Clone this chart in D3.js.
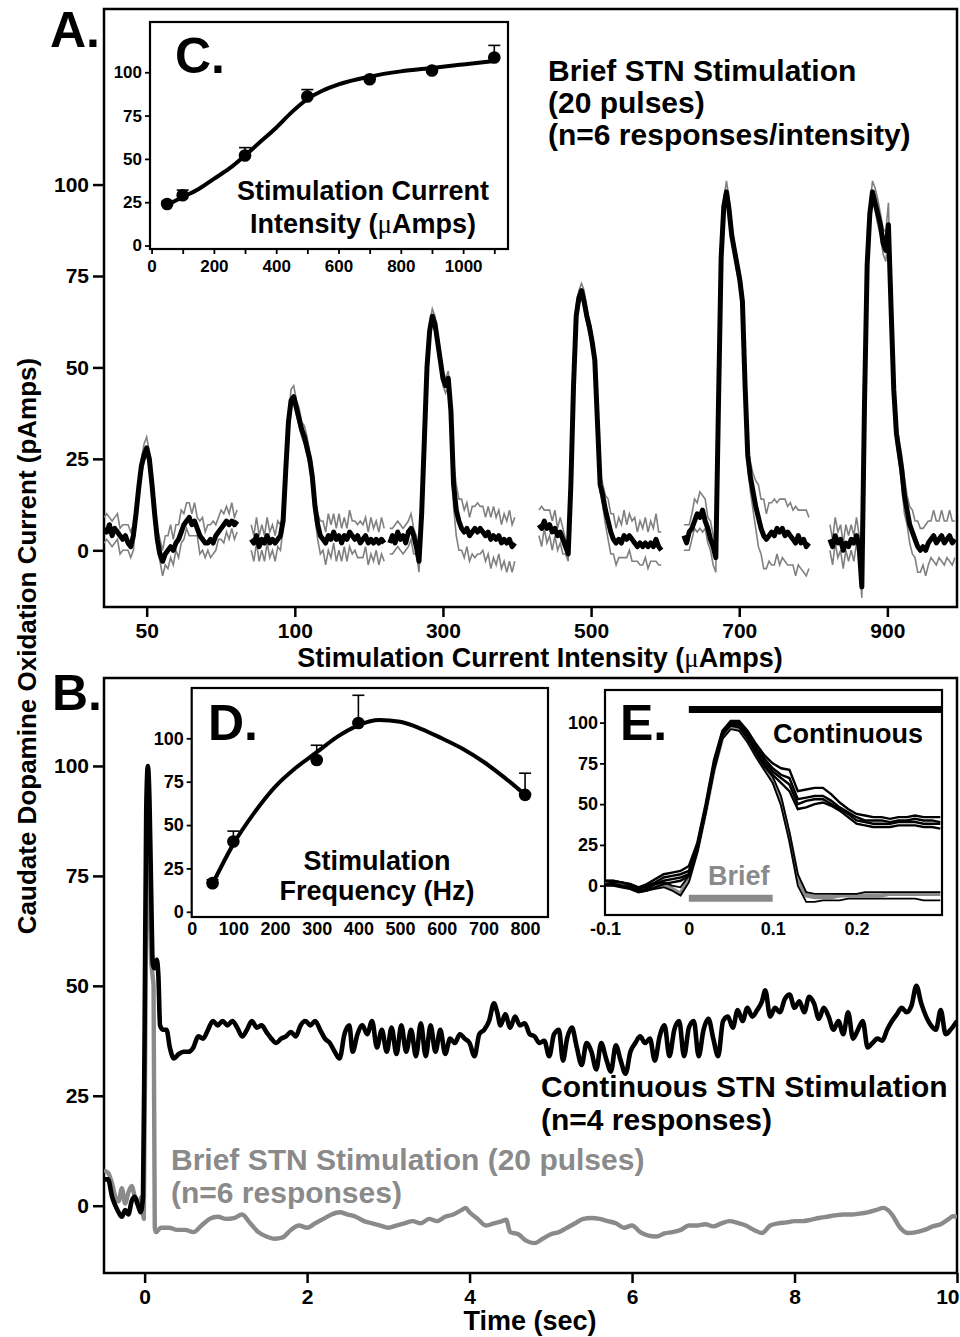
<!DOCTYPE html>
<html>
<head>
<meta charset="utf-8">
<script src="https://cdn.jsdelivr.net/npm/d3@7"></script>
<style>
  html, body { margin: 0; padding: 0; background: #fff; overflow: hidden; }
  svg { display: block; }
</style>
</head>
<body>
<script>
"use strict";

/******************** Panel A : brief stimulation sweeps per intensity ********************/
const intensityLabels = ["50", "100", "300", "500", "700", "900"];
const sweepStart = [-0.40, -0.41, -0.50, -0.49, -0.52, -0.54]; // sec, sweep start vs. category tick
const sweepStep = 0.025; // sec between samples

const meanA = [
  [6,5,7,4,6,5,4,3,4,2,1,4,10,17,23,26,28,25,18,10,3,-1,-3,-1,0,1,0,2,3,5,7,8,9,7,8,6,4,3,2,2,3,2,4,5,6,7,8,7,8,7,8],
  [3,2,4,1,3,2,4,2,3,2,3,4,8,22,35,41,42,39,36,33,31,28,25,20,12,7,4,3,2,4,3,5,3,4,2,4,3,5,4,3,4,2,3,4,2,3,2,3,2,3,2],
  [2,4,2,5,3,4,2,5,6,4,1,-3,10,30,50,60,64,62,57,52,47,45,47,38,18,11,8,6,5,6,4,5,6,5,6,5,4,5,3,4,3,4,2,3,2,3,1,2],
  [7,6,8,6,7,5,6,4,5,3,1,-1,18,45,64,69,71,68,64,61,57,52,35,18,15,11,8,5,3,2,3,2,4,3,4,3,2,1,2,1,2,1,2,1,3,1,0],
  [4,2,5,6,8,10,9,11,8,6,3,1,-2,40,80,94,98,93,86,82,78,74,68,45,26,20,16,12,9,6,4,3,4,5,4,6,5,6,4,5,4,3,2,4,2,3,1,2],
  [3,1,4,2,3,0,2,1,3,2,4,1,-10,40,78,92,98,95,92,89,84,82,89,66,44,32,27,22,15,11,7,5,3,1,0,1,0,2,3,4,2,3,4,2,3,4,2,3]
];
// upper / lower grey SEM traces (distance from the mean)
const semHiA = [
  [3,5,2,4,3,5,2,4,3,5,4,3,2,2,2,3,3,2,2,2,3,4,3,5,4,6,3,5,4,6,3,5,4,3,5,3,4,6,3,5,4,6,3,4,5,3,4,3,5,2,3],
  [4,2,5,3,4,2,5,3,4,2,5,3,2,2,2,3,3,2,3,2,3,3,2,3,2,3,4,5,3,6,4,5,3,6,4,5,3,6,4,5,3,6,4,5,3,6,4,5,3,6,4],
  [4,2,5,3,4,2,5,3,4,2,3,4,2,2,2,2,2,2,2,2,2,2,2,3,6,7,6,8,6,7,5,7,6,8,6,7,5,7,6,8,6,7,5,7,6,8,6,7],
  [4,6,3,5,4,3,5,2,4,3,2,3,2,2,3,2,2,3,2,2,2,2,2,3,3,4,6,5,7,4,6,5,7,4,6,5,7,4,6,5,7,4,6,5,7,4,5],
  [3,5,2,4,6,3,7,4,6,3,5,3,3,2,2,2,3,3,3,2,2,2,3,3,3,4,5,7,9,8,10,7,9,8,10,7,9,8,10,7,9,8,10,7,9,8,10,7],
  [4,2,5,3,4,2,5,3,4,2,5,3,3,2,2,2,3,4,4,3,4,5,6,3,3,3,3,4,5,4,5,6,5,7,6,5,7,6,5,7,6,5,7,6,5,7,6,5]
];
const semLoA = [
  [4,2,5,3,4,2,5,3,4,2,3,4,2,2,2,2,2,2,2,3,3,2,4,3,5,3,4,2,5,3,4,2,5,3,4,2,5,3,4,2,5,3,4,2,3,5,3,4,2,4,3],
  [3,5,2,4,3,5,2,4,3,5,2,4,2,2,2,2,2,2,2,2,2,2,2,3,3,4,5,3,6,4,5,3,6,4,5,3,6,4,5,3,6,4,5,3,6,4,5,3,6,4,5],
  [3,5,2,4,3,5,2,4,3,5,2,3,2,2,2,2,2,2,2,2,2,2,2,3,6,7,8,6,7,5,7,6,8,6,7,5,7,6,8,6,7,5,7,6,8,6,7,5],
  [3,5,2,4,3,5,2,4,3,4,2,2,2,2,2,2,2,2,2,2,2,2,2,2,3,4,5,6,4,6,5,4,6,5,4,6,5,4,6,5,4,6,5,4,6,5,4],
  [4,2,5,3,2,5,3,6,2,4,3,5,4,2,2,2,2,2,2,2,2,2,3,3,3,4,5,6,8,7,9,8,7,9,8,7,9,8,7,9,8,7,9,8,7,9,8,7],
  [3,5,2,4,3,5,2,4,3,5,2,4,3,2,2,2,2,2,3,3,3,3,3,3,3,3,3,4,5,4,5,6,5,7,6,5,7,6,5,7,6,5,7,6,5,7,6,5]
];

/******************** Panel B : continuous vs brief stimulation ********************/
const contT = [-0.50,-0.45,-0.40,-0.36,-0.32,-0.28,-0.24,-0.20,-0.16,-0.12,-0.08,-0.05,-0.02,0.00,0.02,0.04,0.06,0.08,0.10,0.12,0.15,0.17,0.19,0.23,0.27,0.31,0.36,0.42,0.48,0.54,0.60,0.66,0.72,0.78,0.84,0.90,0.96,1.02,1.08,1.14,1.20,1.26,1.32,1.38,1.44,1.50,1.56,1.62,1.68,1.74,1.80,1.86,1.92,1.98,2.04,2.10,2.16,2.22,2.28,2.34,2.40,2.46,2.52,2.56,2.62,2.68,2.74,2.80,2.86,2.92,2.98,3.04,3.10,3.16,3.22,3.28,3.34,3.40,3.46,3.52,3.58,3.64,3.70,3.76,3.82,3.88,3.94,4.00,4.06,4.12,4.18,4.24,4.30,4.34,4.38,4.44,4.50,4.56,4.62,4.68,4.74,4.80,4.86,4.92,4.98,5.04,5.10,5.15,5.20,5.26,5.32,5.38,5.44,5.50,5.56,5.62,5.68,5.74,5.80,5.86,5.92,5.98,6.04,6.10,6.16,6.22,6.28,6.34,6.40,6.46,6.52,6.58,6.64,6.70,6.76,6.82,6.88,6.94,7.00,7.06,7.12,7.18,7.24,7.30,7.36,7.42,7.48,7.54,7.60,7.64,7.70,7.76,7.82,7.88,7.94,8.00,8.06,8.12,8.18,8.24,8.30,8.36,8.42,8.48,8.54,8.60,8.66,8.72,8.78,8.84,8.90,8.96,9.02,9.08,9.14,9.20,9.26,9.32,9.38,9.44,9.50,9.56,9.62,9.68,9.74,9.80,9.86,9.92,10.0];
const contV = [6,6,2,0,-1.5,-2.5,-1,-2,1,2,0,-1.5,2,40,90,100,92,72,55,54,56,52,41,40,40,36,33.5,34.5,35,35,36,38.5,38,40,42,41,42,41,42,40.5,38.5,40,42,40.5,41,39.5,38,37,38,38.5,39.5,38.5,41,42,41,42,40,38,37,35,33.5,39,41,35,39,41,39,42,36,40,35,40.5,34.5,41,35,40,34,41.5,34,41,35,40,34.5,38,37,39,38,37,34,39,40,42,46,44,41,43.5,40.5,43,41,41.5,39,38.5,37,37.5,34,39,40,33,38,40.5,36,32,37,35,31,37,33.5,30.5,36.5,33,30,35,37,38.5,37,38,33,38.5,41,34,40,42,34,40.5,42,34,40,42.5,38,34,42,43,40.5,44.5,42,45,43,44.5,46.5,49,43,45,44,47,48,45,46.5,44,47.5,46,42.5,45,43,40,42,39,44,38,40,42,36,37,38,37.5,40,42,43.5,45,44,45.5,50,46,43,41,40,44.5,39,40,42];

const briefT = [-0.50,-0.45,-0.40,-0.36,-0.32,-0.28,-0.24,-0.20,-0.16,-0.12,-0.08,-0.04,-0.01,0.02,0.04,0.06,0.08,0.10,0.11,0.125,0.14,0.20,0.30,0.40,0.50,0.60,0.70,0.80,0.90,1.00,1.10,1.20,1.30,1.40,1.50,1.60,1.70,1.80,1.90,2.00,2.10,2.20,2.30,2.40,2.50,2.60,2.70,2.80,2.90,3.00,3.10,3.20,3.30,3.40,3.50,3.60,3.70,3.80,3.90,3.95,4.00,4.10,4.20,4.30,4.40,4.45,4.50,4.60,4.70,4.80,4.90,5.00,5.10,5.20,5.30,5.40,5.50,5.60,5.70,5.80,5.90,6.00,6.10,6.20,6.30,6.40,6.50,6.60,6.70,6.80,6.90,7.00,7.10,7.20,7.30,7.40,7.50,7.60,7.70,7.80,7.90,8.00,8.10,8.20,8.30,8.40,8.50,8.60,8.70,8.80,8.90,9.00,9.10,9.15,9.20,9.30,9.40,9.50,9.60,9.70,9.80,9.90,9.95,10.0];
const briefV = [8,7.5,5,2,1,4,0.5,3,4.5,2,0,2,-3,70,98,78,56,52,50,-5,-6,-5,-5,-5.5,-5.5,-6,-4.5,-3,-2.5,-3,-2.8,-2,-4,-6,-7,-7.5,-7.2,-5.5,-4.5,-5,-4,-3,-2,-1.5,-2,-2.5,-3.5,-4,-4.5,-5,-4.5,-4,-3.5,-4,-3,-3.5,-2.5,-2,-1,-0.5,-1.5,-3,-4.5,-4,-3.5,-3.2,-6,-6.5,-8,-8.5,-7.5,-6.5,-6,-5,-4,-3,-2.8,-3,-3.5,-4,-5,-4.5,-6,-6.8,-7,-6.3,-6,-5.5,-4.5,-4.5,-4.2,-4.7,-4,-3.5,-3.9,-4.5,-5.5,-6.2,-4.5,-4,-3.8,-3.5,-3.5,-3.2,-2.8,-2.5,-2.2,-2,-2,-1.8,-1.5,-1,-0.5,-1,-2,-5,-6.2,-6,-5.5,-4.7,-4.2,-3,-2.4,-2.5];

/******************** Inset C : intensity-response ********************/
const intensityC = [50, 100, 300, 500, 700, 900, 1100];
const respC = [24, 29, 52, 86, 96, 101, 108.5];
const errC = [1.5, 3, 4.5, 4, 1, 1.5, 7];
const fitCx = [50, 100, 150, 200, 250, 300, 350, 400, 450, 500, 550, 600, 700, 800, 900, 1000, 1100];
const fitCy = [23.5, 28, 32.5, 38.5, 44.5, 52, 60, 68, 77, 84.5, 89.5, 93, 97.5, 100.5, 102.5, 104.5, 106.5];

/******************** Inset D : frequency-response ********************/
const freqD = [50, 100, 300, 400, 800];
const respD = [16.5, 40.5, 87.5, 108.8, 67.4];
const errD = [2, 6, 8.5, 16, 12.5];
const fitDx = [50, 100, 150, 200, 250, 300, 350, 400, 450, 500, 550, 600, 650, 700, 750, 800];
const fitDy = [16, 39, 57, 72, 83, 92, 101, 107.5, 110.5, 109.5, 105.5, 100, 94, 86.5, 77.5, 67.5];

/******************** Inset E : expanded onset ********************/
const timeE = [-0.10,-0.09,-0.08,-0.07,-0.06,-0.05,-0.04,-0.03,-0.02,-0.01,0.00,0.01,0.02,0.03,0.04,0.05,0.06,0.07,0.08,0.09,0.10,0.11,0.12,0.13,0.14,0.15,0.16,0.17,0.18,0.19,0.20,0.21,0.22,0.23,0.24,0.25,0.26,0.27,0.28,0.29,0.30];
const contE = [
  [3,3,2,1,-1,1,4,7,8,9,12,26,50,77,95,101,101,95,87,80,75,72,71,58,59,60,60,56,51,47,44,43,42,42,41,42,42,43,42,42,42],
  [3,2,2,0,-2,0,2,5,6,7,9,24,48,75,94,100,100,94,85,78,72,68,66,53,54,55,55,52,48,45,42,40,40,40,39,40,40,41,40,40,39],
  [1,1,0,-1,-3,-2,1,3,4,5,7,22,46,73,93,99,99,93,84,76,70,66,62,50,52,53,53,50,47,44,40,39,38,38,38,39,39,39,38,38,38],
  [0,0,-1,-2,-4,-3,-1,1,2,3,6,21,45,72,92,99,98,92,82,74,68,63,58,47,48,50,51,49,46,42,38,37,36,36,36,37,37,37,36,36,35]
];
const briefE = [2,2,1,0,-2,-2,0,1,-2,-5,4,22,46,72,91,97,96,89,80,72,65,52,30,4,-6,-7,-7,-7,-6,-6,-6,-6,-6,-6,-5,-5,-5,-5,-5,-5,-5];
const briefEthin = [
  [3,3,2,1,-1,-1,1,2,0,-1,6,24,47,74,93,98,97,90,81,73,67,55,33,7,-4,-5,-5,-5,-5,-5,-5,-4,-4,-4,-4,-4,-4,-4,-4,-4,-4],
  [1,0,0,-2,-4,-3,-2,-1,-3,-6,2,20,44,70,90,96,95,88,79,71,63,49,27,0,-10,-10,-9,-9,-9,-8,-8,-8,-8,-8,-8,-8,-8,-8,-9,-9,-9]
];

/******************** Drawing ********************/
const FONT = '"Liberation Sans", Arial, Helvetica, sans-serif';
const GREY = "#8a8a8a";
const W = 960, H = 1337;

const svg = d3.select("body").append("svg")
  .attr("width", W).attr("height", H)
  .style("font-family", FONT).style("font-weight", "bold");

function styleAxis(g, size, lw) {
  g.select(".domain").remove();
  g.selectAll(".tick line").attr("stroke", "#000").attr("stroke-width", lw);
  g.selectAll(".tick text").attr("font-size", size).attr("font-family", FONT)
    .attr("font-weight", "bold").attr("fill", "#000");
}

function frame(box, lw, fill) {
  svg.append("rect").attr("x", box.l).attr("y", box.t)
    .attr("width", box.r - box.l).attr("height", box.b - box.t)
    .attr("fill", fill).attr("stroke", "#000").attr("stroke-width", lw);
}

function clip(id, box) {
  svg.append("clipPath").attr("id", id).append("rect")
    .attr("x", box.l).attr("y", box.t).attr("width", box.r - box.l).attr("height", box.b - box.t);
}

function label(x, y, txt, size, opts = {}) {
  return svg.append("text").attr("x", x).attr("y", y).attr("font-size", size)
    .attr("text-anchor", opts.anchor || "start").attr("fill", opts.fill || "#000").text(txt);
}

// label with a thin symbol-style mu
function muLabel(x, y, before, after, size, anchor) {
  const t = svg.append("text").attr("x", x).attr("y", y).attr("font-size", size)
    .attr("text-anchor", anchor).attr("fill", "#000");
  t.append("tspan").text(before);
  t.append("tspan").attr("font-family", '"Liberation Serif", serif').attr("font-weight", "normal").text("\u03bc");
  t.append("tspan").text(after);
}

/* ---- Panel A ---- */
const A = { l: 104, r: 957, t: 9, b: 607 };
const xA = d3.scaleLinear().domain([-0.288, 5.47]).range([A.l, A.r]);
const yA = d3.scaleLinear().domain([-15.5, 148]).range([A.b, A.t]);
const sweepPx = d3.scaleLinear().domain([0, 1]).range([0, 106.4]); // seconds within a sweep -> px

frame(A, 2.5, "none");
clip("clipA", A);

const gA = svg.append("g").attr("clip-path", "url(#clipA)");
meanA.forEach((trace, i) => {
  const xs = trace.map((v, k) => xA(i) + sweepPx(sweepStart[i] + k * sweepStep));
  const ln = d3.line().x((d, k) => xs[k]).y(d => yA(d));
  gA.append("path").datum(trace.map((v, k) => v + semHiA[i][k]))
    .attr("d", ln).attr("fill", "none").attr("stroke", "#808080").attr("stroke-width", 1.6);
  gA.append("path").datum(trace.map((v, k) => v - semLoA[i][k]))
    .attr("d", ln).attr("fill", "none").attr("stroke", "#808080").attr("stroke-width", 1.6);
  gA.append("path").datum(trace)
    .attr("d", ln).attr("fill", "none").attr("stroke", "#000").attr("stroke-width", 5)
    .attr("stroke-linejoin", "round");
});

svg.append("g").attr("transform", `translate(${A.l},0)`)
  .call(d3.axisLeft(yA).tickValues([0, 25, 50, 75, 100]).tickSize(11).tickPadding(4))
  .call(g => styleAxis(g, 21, 2.5));
svg.append("g").attr("transform", `translate(0,${A.b})`)
  .call(d3.axisBottom(xA).tickValues(intensityLabels.map((d, i) => i))
    .tickFormat(i => intensityLabels[i]).tickSize(10).tickPadding(6))
  .call(g => styleAxis(g, 21, 2.5));

label(50, 47, "A.", 50);
label(548, 81, "Brief STN Stimulation", 30);
label(548, 113, "(20 pulses)", 30);
label(548, 145, "(n=6 responses/intensity)", 30);
muLabel(540, 667, "Stimulation Current Intensity (", "Amps)", 27, "middle");

/* ---- Inset C ---- */
const C = { l: 150, r: 508, t: 22, b: 249 };
const xC = d3.scaleLinear().domain([-5, 1144]).range([C.l, C.r]);
const yC = d3.scaleLinear().domain([-2, 129]).range([C.b, C.t]);
frame(C, 2.2, "#fff");
svg.append("g").attr("transform", `translate(${C.l},0)`)
  .call(d3.axisLeft(yC).tickValues([0, 25, 50, 75, 100]).tickSize(5).tickPadding(3))
  .call(g => styleAxis(g, 17, 1.8));
svg.append("g").attr("transform", `translate(0,${C.b})`)
  .call(d3.axisBottom(xC).tickValues(d3.range(0, 1101, 100)).tickSize(5).tickPadding(6)
    .tickFormat(d => d % 200 === 0 ? d : ""))
  .call(g => styleAxis(g, 17, 1.8));

const fitC = fitCx.map((x, i) => [x, fitCy[i]]);
svg.append("path").datum(fitC)
  .attr("d", d3.line().x(d => xC(d[0])).y(d => yC(d[1])).curve(d3.curveMonotoneX))
  .attr("fill", "none").attr("stroke", "#000").attr("stroke-width", 4);
intensityC.forEach((x, i) => {
  const cx = xC(x), y0 = yC(respC[i]), y1 = yC(respC[i] + errC[i]);
  svg.append("line").attr("x1", cx).attr("x2", cx).attr("y1", y0).attr("y2", y1)
    .attr("stroke", "#000").attr("stroke-width", 1.6);
  svg.append("line").attr("x1", cx - 6).attr("x2", cx + 6).attr("y1", y1).attr("y2", y1)
    .attr("stroke", "#000").attr("stroke-width", 1.6);
  svg.append("circle").attr("cx", cx).attr("cy", y0).attr("r", 6.3).attr("fill", "#000");
});
label(175, 73, "C.", 50);
label(363, 200, "Stimulation Current", 27, { anchor: "middle" });
muLabel(363, 233, "Intensity (", "Amps)", 27, "middle");

/* ---- Panel B ---- */
const B = { l: 104, r: 957, t: 678, b: 1273 };
const xB = d3.scaleLinear().domain([-0.5, 10]).range([B.l, B.r]);
const yB = d3.scaleLinear().domain([-15.3, 120]).range([B.b, B.t]);
frame(B, 2.5, "none");
clip("clipB", B);
const gB = svg.append("g").attr("clip-path", "url(#clipB)");
const lineB = d3.line().x(d => xB(d[0])).y(d => yB(d[1])).curve(d3.curveMonotoneX);
gB.append("path").datum(briefT.map((t, i) => [t, briefV[i]]))
  .attr("d", lineB).attr("fill", "none").attr("stroke", GREY).attr("stroke-width", 4.4)
  .attr("stroke-linejoin", "round");
gB.append("path").datum(contT.map((t, i) => [t, contV[i]]))
  .attr("d", lineB).attr("fill", "none").attr("stroke", "#000").attr("stroke-width", 4.6)
  .attr("stroke-linejoin", "round");

svg.append("g").attr("transform", `translate(${B.l},0)`)
  .call(d3.axisLeft(yB).tickValues([0, 25, 50, 75, 100]).tickSize(11).tickPadding(4))
  .call(g => styleAxis(g, 21, 2.5));
svg.append("g").attr("transform", `translate(0,${B.b})`)
  .call(d3.axisBottom(xB).tickValues([0, 2, 4, 6, 8, 10]).tickSize(10).tickPadding(6))
  .call(g => styleAxis(g, 21, 2.5))
  .call(g => g.selectAll(".tick text").filter(d => d === 10).attr("text-anchor", "end").attr("dx", 2));

label(52, 710, "B.", 50);
label(541, 1097, "Continuous STN Stimulation", 30);
label(541, 1130, "(n=4 responses)", 30);
label(171, 1170, "Brief STN Stimulation (20 pulses)", 30, { fill: GREY });
label(171, 1203, "(n=6 responses)", 30, { fill: GREY });
label(530, 1330, "Time (sec)", 27, { anchor: "middle" });

/* ---- Inset D ---- */
const D = { l: 191.7, r: 548, t: 688, b: 917 };
const xD = d3.scaleLinear().domain([0, 855]).range([D.l, D.r]);
const yD = d3.scaleLinear().domain([-3, 129]).range([D.b, D.t]);
frame(D, 2.2, "#fff");
svg.append("g").attr("transform", `translate(${D.l},0)`)
  .call(d3.axisLeft(yD).tickValues([0, 25, 50, 75, 100]).tickSize(5).tickPadding(3))
  .call(g => styleAxis(g, 18, 1.8));
svg.append("g").attr("transform", `translate(0,${D.b})`)
  .call(d3.axisBottom(xD).tickValues(d3.range(0, 801, 100)).tickSize(0).tickPadding(5))
  .call(g => styleAxis(g, 18, 1.8));
const fitD = fitDx.map((x, i) => [x, fitDy[i]]);
svg.append("path").datum(fitD)
  .attr("d", d3.line().x(d => xD(d[0])).y(d => yD(d[1])).curve(d3.curveMonotoneX))
  .attr("fill", "none").attr("stroke", "#000").attr("stroke-width", 4);
freqD.forEach((x, i) => {
  const cx = xD(x), y0 = yD(respD[i]), y1 = yD(respD[i] + errD[i]);
  svg.append("line").attr("x1", cx).attr("x2", cx).attr("y1", y0).attr("y2", y1)
    .attr("stroke", "#000").attr("stroke-width", 1.6);
  svg.append("line").attr("x1", cx - 6).attr("x2", cx + 6).attr("y1", y1).attr("y2", y1)
    .attr("stroke", "#000").attr("stroke-width", 1.6);
  svg.append("circle").attr("cx", cx).attr("cy", y0).attr("r", 6.3).attr("fill", "#000");
});
label(208, 740, "D.", 50);
label(377, 870, "Stimulation", 27, { anchor: "middle" });
label(377, 900, "Frequency (Hz)", 27, { anchor: "middle" });

/* ---- Inset E ---- */
const E = { l: 605, r: 942, t: 690, b: 915 };
const xE = d3.scaleLinear().domain([-0.1, 0.302]).range([E.l, E.r]);
const yE = d3.scaleLinear().domain([-18, 120]).range([E.b, E.t]);
frame(E, 2.2, "#fff");
clip("clipE", E);
svg.append("g").attr("transform", `translate(${E.l},0)`)
  .call(d3.axisLeft(yE).tickValues([0, 25, 50, 75, 100]).tickSize(5).tickPadding(2))
  .call(g => styleAxis(g, 18, 1.8));
svg.append("g").attr("transform", `translate(0,${E.b})`)
  .call(d3.axisBottom(xE).tickValues([-0.1, 0, 0.1, 0.2]).tickSize(0).tickPadding(7)
    .tickFormat(d => d === 0 ? "0" : d3.format(".1f")(d).replace("\u2212", "-")))
  .call(g => styleAxis(g, 18, 1.8));

const gE = svg.append("g").attr("clip-path", "url(#clipE)");
const lineE = d3.line().x((d, i) => xE(timeE[i])).y(d => yE(d));
gE.append("path").datum(briefE).attr("d", lineE)
  .attr("fill", "none").attr("stroke", GREY).attr("stroke-width", 4.2);
briefEthin.forEach(tr => gE.append("path").datum(tr).attr("d", lineE)
  .attr("fill", "none").attr("stroke", "#000").attr("stroke-width", 1.8));
contE.forEach(tr => gE.append("path").datum(tr).attr("d", lineE)
  .attr("fill", "none").attr("stroke", "#000").attr("stroke-width", 2.4));

// stimulation bars
gE.append("line").attr("x1", xE(0)).attr("x2", E.r).attr("y1", yE(108)).attr("y2", yE(108))
  .attr("stroke", "#000").attr("stroke-width", 7);
svg.append("line").attr("x1", xE(0)).attr("x2", xE(0.1)).attr("y1", yE(-7.8)).attr("y2", yE(-7.8))
  .attr("stroke", GREY).attr("stroke-width", 7);
label(620, 740, "E.", 50);
label(773, 743, "Continuous", 27);
label(708, 885, "Brief", 27, { fill: GREY });

/* ---- shared y label ---- */
svg.append("text").attr("transform", "translate(36,646) rotate(-90)")
  .attr("text-anchor", "middle").attr("font-size", 26).attr("fill", "#000")
  .text("Caudate Dopamine Oxidation Current (pAmps)");
</script>
</body>
</html>
